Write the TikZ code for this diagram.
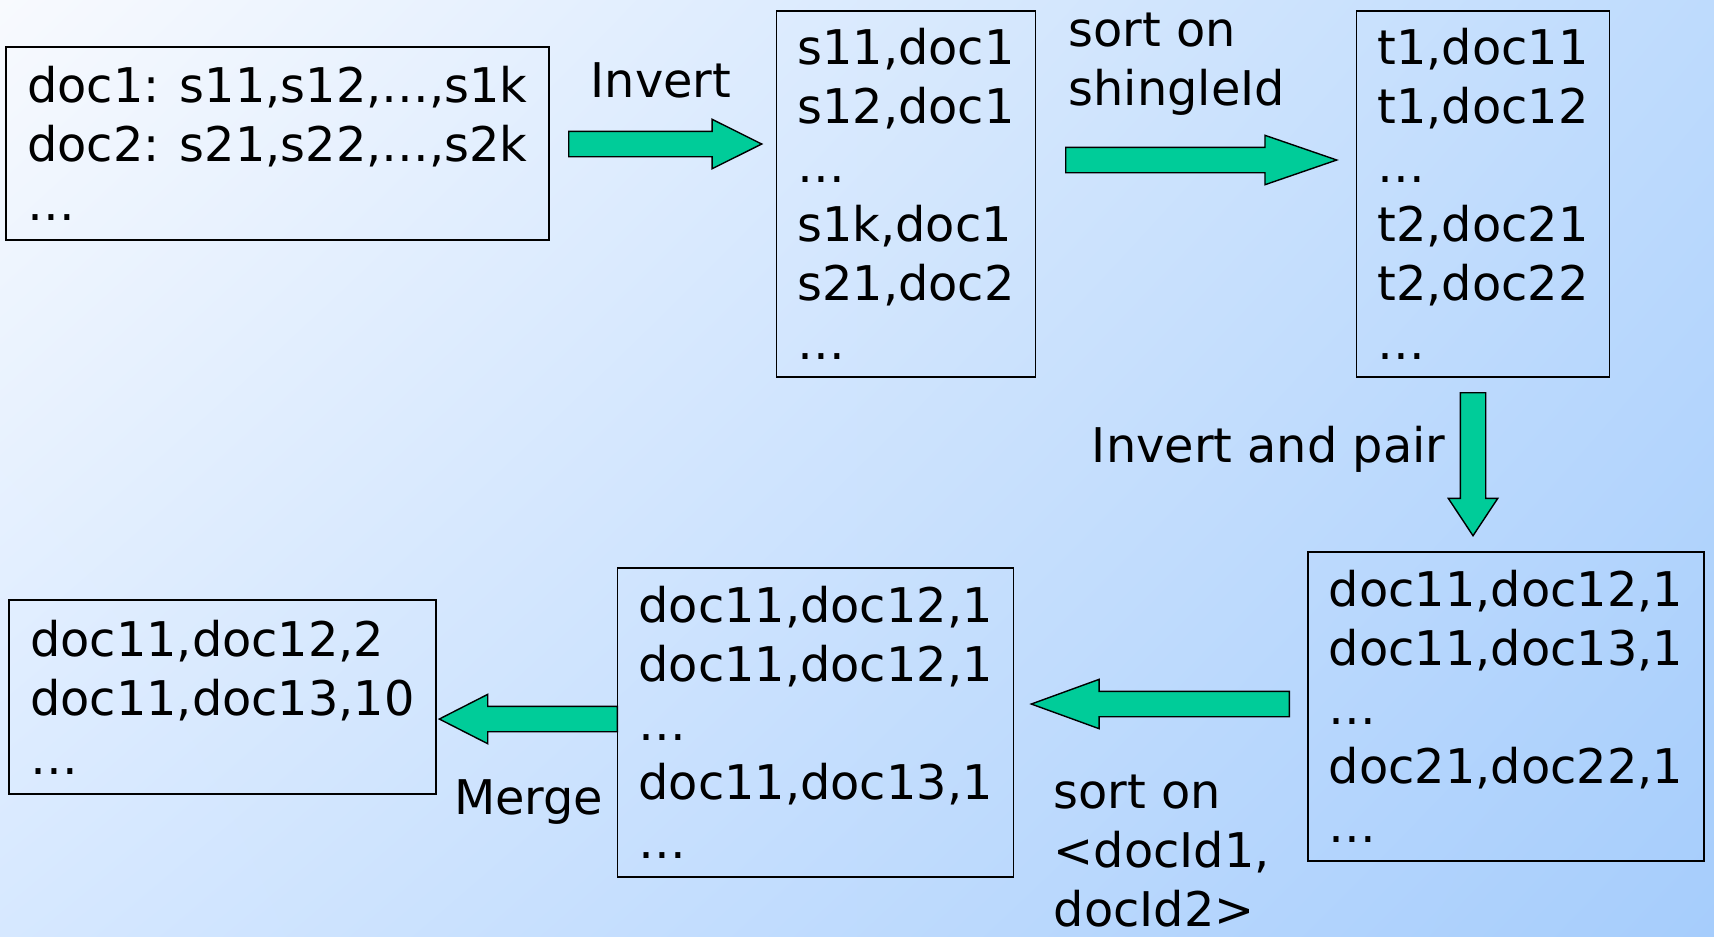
\documentclass[tikz,border=0pt]{standalone}
\usepackage{fontspec}
\setmainfont{DejaVu Sans}
\usetikzlibrary{%
	calc,%
	shadings,%
	shapes.arrows,%
	positioning,%
}
\definecolor{cgreen}{RGB}{0, 204, 153}
\definecolor{cbgul}{RGB}{248, 250, 254}
\definecolor{cbgur}{RGB}{190, 219, 253}
\definecolor{cbgll}{RGB}{214, 232, 255}
\definecolor{cbglr}{RGB}{166, 205, 252}
\tikzset{
	nodes={align=left},%
	listnode/.style={%
			draw,%
			rectangle,%
			line width=0.5pt,%
			inner xsep=2.1mm,%
			inner ysep=0},%
	flownode/.style={%
			draw,%
			single arrow,%
			fill=cgreen,%
			line width=0.4pt,%
			inner sep=0,%
			text height=2.4mm,%
			text depth=0,%
			single arrow head extend=1.2mm},%
	stepnode/.style={%
			inner sep=0},%
}

\begin{document}
\begin{tikzpicture}[x=0.1mm, y=-0.1mm, nodes={font={\fontsize{13.6pt}{16.8pt}\selectfont}}]%
	\useasboundingbox (0,0) rectangle (1714,936);
	\shade[upper left=cbgul, upper right=cbgur, lower left=cbgll, lower right=cbglr] (0,0) rectangle (1714,936);

	\node[listnode, minimum width=54.1mm, minimum height=19.3mm] (docs) at (277.5,143.5) {doc1: s11,s12,…,s1k\\
			doc2: s21,s22,…,s2k\\
			…};

	\node[listnode, minimum width=25.8mm, minimum height=36.6mm] (shingles) at (906,194) {s11,doc1\\
			s12,doc1\\
			…\\
			s1k,doc1\\
			s21,doc2\\
			…};

	\node[listnode, minimum width=25.2mm, minimum height=36.6mm] (sorted) at (1483,194) {t1,doc11\\
			t1,doc12\\
			…\\
			t2,doc21\\
			t2,doc22\\
			…};

	\node[listnode, minimum width=39.6mm, minimum height=30.9mm] (pairs) at (1506,706.5) {doc11,doc12,1\\
			doc11,doc13,1\\
			…\\
			doc21,doc22,1\\
			…};

	\node[listnode, minimum width=39.5mm, minimum height=30.9mm] (sortedpairs) at (815.5,722.5) {doc11,doc12,1\\
			doc11,doc12,1\\
			…\\
			doc11,doc13,1\\
			…};

	\node[listnode, minimum width=42.7mm, minimum height=19.4mm] (merged) at (222.5,697) {doc11,doc12,2\\
			doc11,doc13,10\\
			…};

	% block arrows between the stages
	\node[flownode, anchor=tail, minimum height=19.3mm, single arrow tip angle=53] (invert) at (568,144) {};
	\node[flownode, anchor=tail, minimum height=27.1mm, single arrow tip angle=38] (sortshingle) at (1065,160) {};
	\node[flownode, anchor=tail, rotate=-90, minimum height=14.3mm, single arrow tip angle=67] (invertpair) at (1473,392) {};
	\node[flownode, anchor=tail, rotate=180, minimum height=25.8mm, single arrow tip angle=40] (sortdoc) at (1290,704) {};
	\node[flownode, anchor=tail, rotate=180, minimum height=17.8mm, single arrow tip angle=54] (merge) at (618,719) {};

	\node[stepnode] (invertlabel) at (661,80) {Invert};
	\node[stepnode, anchor=west] (sortshinglelabel) at (1068,64) {sort on\\shingleId};
	\node[stepnode, anchor=east] (invertpairlabel) at (1446,449) {Invert and pair};
	\node[stepnode, anchor=west] (sortdoclabel) at (1053,851) {sort on\\<docId1,\\docId2>};
	\node[stepnode, anchor=east] (mergelabel) at (604,802) {Merge};
\end{tikzpicture}
\end{document}
